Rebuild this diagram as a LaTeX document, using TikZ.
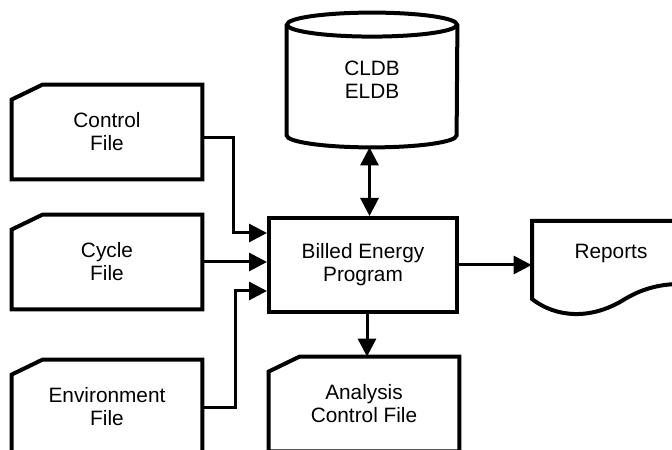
\documentclass[tikz,border=0pt]{standalone}
\usepackage{fontspec}
\setmainfont{Liberation Sans}
\usetikzlibrary{arrows.meta}

\tikzset{
  box/.style={line width=2pt, line join=miter},
  file/.style={minimum width=95pt, minimum height=47pt, align=center, inner sep=0pt},
  flow/.style={line width=1.5pt, -{Triangle[length=9pt,width=9pt]}},
}

\begin{document}
\begin{tikzpicture}[x=0.5pt,y=0.5pt,font=\fontsize{10.4}{11.5}\selectfont]
\useasboundingbox (0,0) rectangle (672,449);
\clip (0,0) rectangle (672,449);

% Files
\node[file] (ctrl) at (107,317) {Control\\File};
\node[file] (cyc) at (107,187) {Cycle\\File};
\node[file] (env) at (107,42) {Environment\\File};
\node[file] (acf) at (364,45) {Analysis\\Control File};

\foreach \f in {ctrl,cyc,env,acf}
  \draw[box] ([yshift=-7.5pt]\f.north west) -- ([xshift=15.5pt]\f.north west)
    -- (\f.north east) -- (\f.south east) -- (\f.south west) -- cycle;

% Program
\node[box, draw, minimum width=94pt, minimum height=47pt, align=center] (prog) at (363,184) {Billed Energy\\Program};

% Database
\node[minimum width=85pt, minimum height=67pt, inner sep=0pt, align=center] (db) at (372,369) {CLDB\\ELDB};
\draw[box] ([yshift=-6pt]db.north) ellipse [x radius=42.5pt, y radius=6pt];
\draw[box] ([yshift=-6pt]db.north west) -- ([yshift=6pt]db.south west)
  arc[start angle=180, end angle=360, x radius=42.5pt, y radius=6pt] -- ([yshift=-6pt]db.north east);

% Reports
\node[minimum width=79pt, minimum height=39pt, inner sep=0pt] (rep) at (611,195) {Reports};
\draw[box] (532,150) -- (532,228) -- (720,228) -- (720,160) -- (690,165)
  .. controls (665,166) and (645,162) .. (625,150)
  .. controls (590,128) and (555,132) .. (532,150) -- cycle;

% Connectors
\draw[flow] ([yshift=-3pt]ctrl.east) -- ++(31,0) |- ([yshift=16pt]prog.west);
\draw[flow] (cyc.east) -- (cyc.east -| prog.west);
\draw[flow] (env.east) -- ++(33,0) |- ([yshift=-13pt]prog.west);
\draw[line width=1.5pt, {Triangle[length=9pt,width=9pt]}-{Triangle[length=9pt,width=9pt]}]
  ([xshift=-1.25pt]db.south) -- ([xshift=-1.25pt]db.south |- prog.north);
\draw[flow] (prog.east) -- (prog.east -| rep.west);
\draw[flow] ([xshift=2pt]prog.south) -- ([xshift=2pt]prog.south |- acf.north);

\end{tikzpicture}
\end{document}
